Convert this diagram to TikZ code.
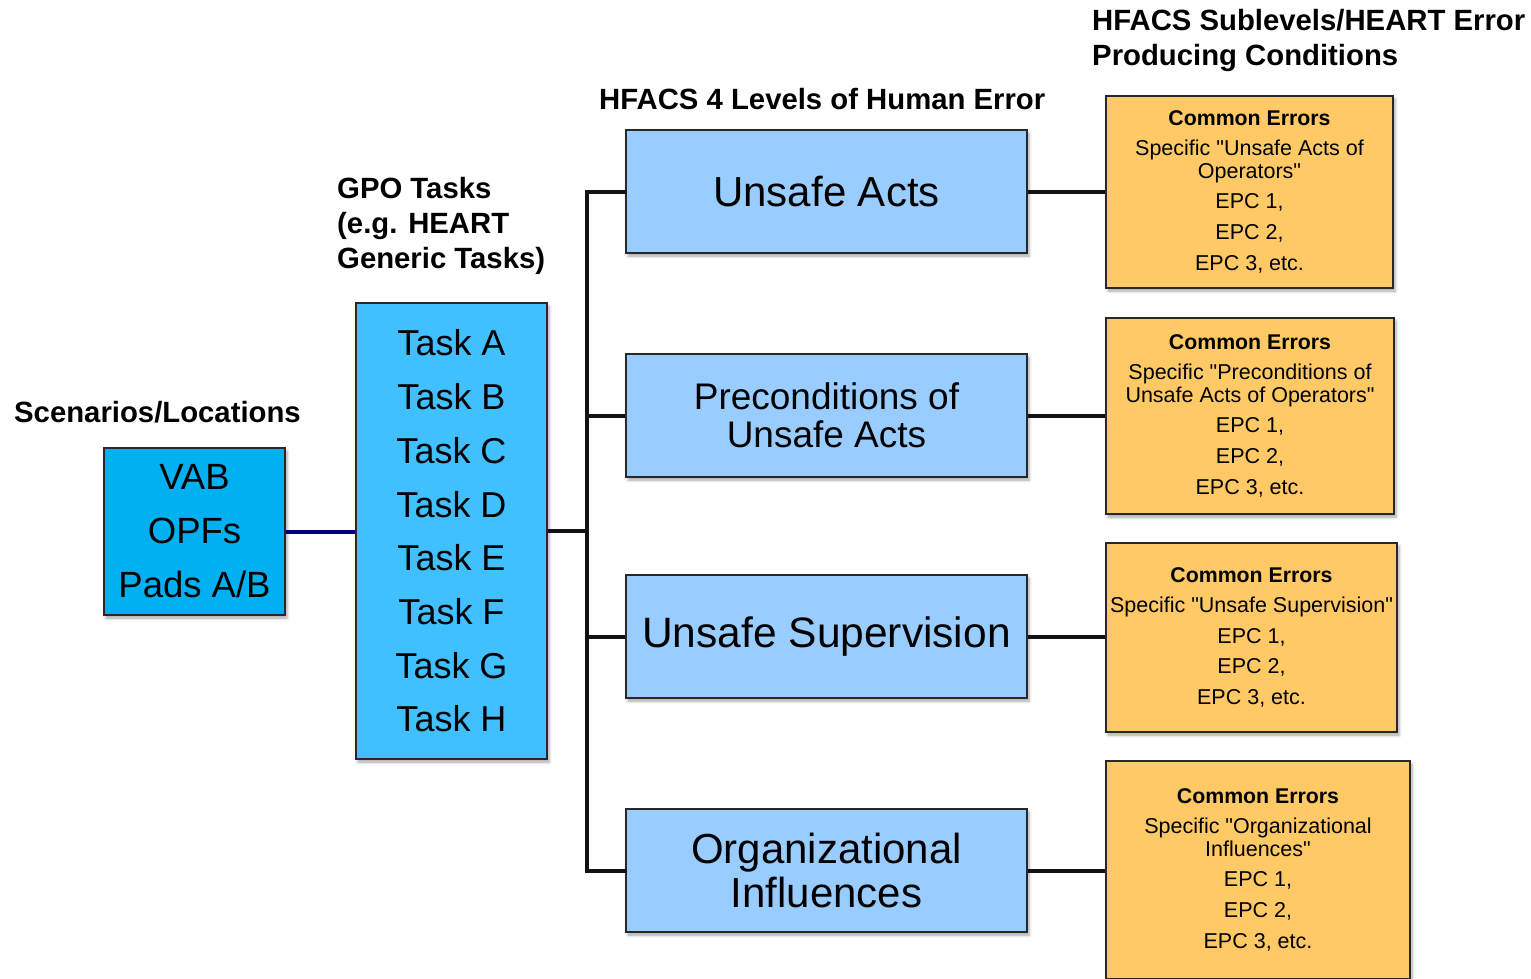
\documentclass[tikz,border=0pt]{standalone}
\usepackage{fontspec}
\setmainfont{Liberation Sans}
\usetikzlibrary{shadows.blur}
\definecolor{vabblue}{RGB}{0,176,240}
\definecolor{taskblue}{RGB}{64,192,255}
\definecolor{hfblue}{RGB}{153,204,255}
\definecolor{epcorange}{RGB}{255,201,102}
\definecolor{navyline}{RGB}{0,0,128}
\definecolor{edgegray}{RGB}{40,40,40}
\newcommand{\qq}{\textquotedbl}
\begin{document}
\begin{tikzpicture}[x=1pt,y=-1pt,
  box/.style={draw=edgegray, line width=2pt, inner sep=0pt, align=center,
    blur shadow={shadow xshift=2pt, shadow yshift=-3pt, shadow blur radius=3pt, shadow opacity=35}},
  vabbox/.style={box, fill=vabblue, font=\fontsize{36.5}{54}\selectfont},
  taskbox/.style={box, fill=taskblue, font=\fontsize{36}{53.7}\selectfont},
  hfbox/.style={box, fill=hfblue, minimum width=401pt, minimum height=123pt},
  epcbox/.style={box, fill=epcorange, font=\fontsize{21.5}{23}\selectfont},
  cerr/.style={},
  head/.style={font=\bfseries\fontsize{29.3}{35}\selectfont, inner sep=0pt, align=left, anchor=west},
  conn/.style={line width=4pt, draw=black!93},
]
\useasboundingbox (0,0) rectangle (1531,979);

% headings
\node[head] (hscen) at (14,412) {Scenarios/Locations};
\node[head] (hgpo) at (337,226) {GPO Tasks\\(e.g. HEART\\Generic Tasks)};
\node[head] (hlev) at (599,99) {HFACS 4 Levels of Human Error};
\node[head] (hsub) at (1092,40.5) {HFACS Sublevels/HEART Error\\Producing Conditions};

% left boxes
\node[vabbox, minimum width=181pt, minimum height=167pt] (vab) at (194.5,531.5) {VAB\\OPFs\\Pads A/B};
\node[taskbox, minimum width=191pt, minimum height=456pt] (tasks) at (451.5,531) {Task A\\Task B\\Task C\\Task D\\Task E\\Task F\\Task G\\Task H};

% HFACS levels
\node[hfbox, font=\fontsize{42}{44}\selectfont] (ua) at (826.5,191.5) {Unsafe Acts};
\node[hfbox, font=\fontsize{37}{38}\selectfont] (pre) at (826.5,415.5) {Preconditions of\\Unsafe Acts};
\node[hfbox, font=\fontsize{42.5}{44}\selectfont] (us) at (826.5,636.5) {\raisebox{-3pt}{Unsafe Supervision}};
\node[hfbox, font=\fontsize{42}{44}\selectfont] (oi) at (826.5,870.5) {Organizational\\Influences};

% EPC boxes
\node[epcbox, minimum width=287pt, minimum height=192pt] (e1) at (1249.5,192)
 {{\bfseries\fontsize{21.3}{23}\selectfont Common Errors}\\[7pt]Specific \qq Unsafe Acts of\\Operators\qq\\[7pt]EPC 1,\\[7.5pt]EPC 2,\\[8pt]EPC 3, etc.};
\node[epcbox, minimum width=288pt, minimum height=196pt] (e2) at (1250,416)
 {{\bfseries\fontsize{21.3}{23}\selectfont Common Errors}\\[7pt]Specific \qq Preconditions of\\Unsafe Acts of Operators\qq\\[7pt]EPC 1,\\[7.5pt]EPC 2,\\[8pt]EPC 3, etc.};
\node[epcbox, minimum width=291pt, minimum height=189pt] (e3) at (1251.5,637.5)
 {{\bfseries\fontsize{21.3}{23}\selectfont Common Errors}\\[7pt]Specific \qq Unsafe Supervision\qq\\[7.5pt]EPC 1,\\[7.5pt]EPC 2,\\[8pt]EPC 3, etc.};
\node[epcbox, minimum width=304pt, minimum height=218pt] (e4) at (1258,870)
 {{\bfseries\fontsize{21.3}{23}\selectfont Common Errors}\\[7pt]Specific \qq Organizational\\Influences\qq\\[7pt]EPC 1,\\[7.5pt]EPC 2,\\[8pt]EPC 3, etc.};

% connectors
\draw[line width=4pt, navyline] (vab.east) -- (tasks.west |- vab.east);
\coordinate (bus) at (587,531);
\coordinate (bt) at (587,191.5);
\coordinate (bb) at (587,870.5);
\draw[conn] (tasks.east) -- (bus);
\draw[conn, line cap=rect] (ua.west) -- (bt) -- (bb) -- (oi.west);
\draw[conn] (pre.west) -- (pre.west -| bus);
\draw[conn] (us.west) -- (us.west -| bus);
\draw[conn] (ua.east) -- (e1.west |- ua.east);
\draw[conn] (pre.east) -- (e2.west |- pre.east);
\draw[conn] (us.east) -- (e3.west |- us.east);
\draw[conn] (oi.east) -- (e4.west |- oi.east);
\end{tikzpicture}
\end{document}
